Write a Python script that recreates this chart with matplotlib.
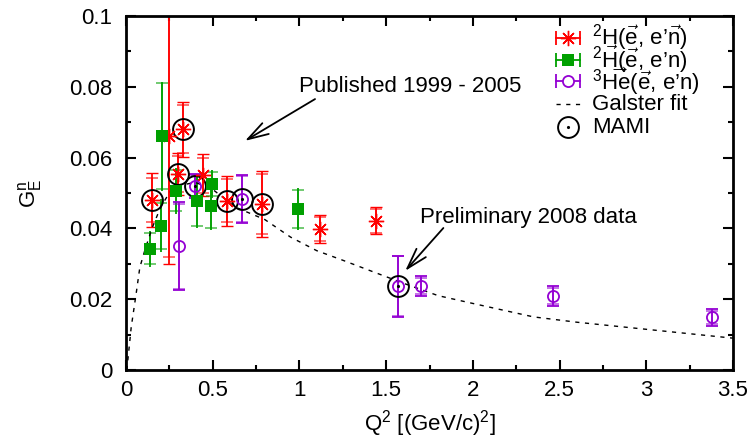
import numpy as np
import matplotlib
matplotlib.use("Agg")
import matplotlib.pyplot as plt

plt.rcParams['font.family'] = ['Liberation Sans', 'DejaVu Sans']
plt.rcParams['mathtext.fontset'] = 'custom'
plt.rcParams['mathtext.rm'] = 'Liberation Sans'
plt.rcParams['mathtext.it'] = 'Liberation Sans:italic'
plt.rcParams['font.size'] = 16

# 2H(e, e'n) with polarised neutron
q2_d_n = [0.15, 0.25, 0.30, 0.33, 0.445, 0.58, 0.785, 1.12, 1.44]
ge_d_n = [0.048, 0.066, 0.0554, 0.068, 0.055, 0.0478, 0.0469, 0.0398, 0.0421]
err_d_n = [0.0075, 0.036, 0.006, 0.0078, 0.006, 0.007, 0.0092, 0.004, 0.0038]
stat_d_n = [0.0062, 0.034, 0.005, 0.0068, 0.005, 0.006, 0.0085, 0.0034, 0.0033]

# 2H(e, e'n) with polarised target
q2_d_t = [0.14, 0.20, 0.21, 0.29, 0.41, 0.495, 0.49, 0.99]
ge_d_t = [0.0342, 0.0407, 0.066, 0.0506, 0.0477, 0.0525, 0.0463, 0.0455]
err_d_t = [0.005, 0.0075, 0.0154, 0.0065, 0.0077, 0.004, 0.0068, 0.006]
stat_d_t = [0.0044, 0.0065, 0.0150, 0.0058, 0.0070, 0.0035, 0.0062, 0.0053]

# 3He(e, e'n)
q2_he = [0.305, 0.40, 0.67, 1.57, 1.70, 2.46, 3.38]
ge_he = [0.035, 0.052, 0.0483, 0.0237, 0.0237, 0.0209, 0.0149]
err_he = [0.0125, 0.0034, 0.0068, 0.0086, 0.0028, 0.0028, 0.0024]
stat_he = [0.0120, 0.0030, 0.0064, 0.0085, 0.0022, 0.0022, 0.0019]

# MAMI points (circled)
q2_mami = [0.15, 0.30, 0.33, 0.40, 0.58, 0.67, 0.785, 1.57]
ge_mami = [0.048, 0.0554, 0.068, 0.052, 0.0478, 0.0483, 0.0469, 0.0237]

# Galster fit
q2_fit = [0.005, 0.03, 0.06, 0.08, 0.11, 0.15, 0.20, 0.25, 0.30, 0.40, 0.50,
          0.63, 0.80, 0.95, 1.10, 1.25, 1.40, 1.60, 1.80, 2.00, 2.35, 2.60,
          2.90, 3.20, 3.50]
ge_fit = [0.0, 0.012, 0.022, 0.029, 0.034, 0.040, 0.046, 0.050, 0.052, 0.053,
          0.051, 0.046, 0.0425, 0.0375, 0.0337, 0.031, 0.0282, 0.0245, 0.021,
          0.0188, 0.015, 0.0135, 0.012, 0.0105, 0.009]

xticks = [0, 0.5, 1, 1.5, 2, 2.5, 3, 3.5]
xticklabels = ['0', '0.5', '1', '1.5', '2', '2.5', '3', '3.5']
yticks = [0, 0.02, 0.04, 0.06, 0.08, 0.1]
yticklabels = ['0', '0.02', '0.04', '0.06', '0.08', '0.1']

legend_labels = [r'$^2$H($\vec{\rm e}$, e’$\vec{\rm n}$)',
                 r'$^2\vec{\rm H}$($\vec{\rm e}$, e’n)',
                 r'$^3\overrightarrow{\rm He}$($\vec{\rm e}$, e’n)',
                 'Galster fit', 'MAMI']

red = '#ff0000'
green = '#00a000'
violet = '#9400d3'

fig, ax = plt.subplots(figsize=(7.48, 4.40), dpi=100)
fig.subplots_adjust(left=0.1684, right=0.98, bottom=0.159, top=0.964)

ekw = dict(linestyle='none', capsize=4.5, elinewidth=1.3, capthick=1.3)
red_mk = dict(marker=(8, 2, 0), ms=11, mew=1.0)
green_mk = dict(marker='s', ms=8, mew=0)
violet_mk = dict(marker='o', ms=8, mfc='none', mew=1.3)

ax.errorbar(q2_d_n, ge_d_n, yerr=err_d_n, color=red, **red_mk, **ekw)
ax.errorbar(q2_d_n, ge_d_n, yerr=stat_d_n, color=red, marker='none', alpha=0.6, **ekw)
ax.errorbar(q2_d_t, ge_d_t, yerr=err_d_t, color=green, **green_mk, **ekw)
ax.errorbar(q2_d_t, ge_d_t, yerr=stat_d_t, color=green, marker='none', alpha=0.6, **ekw)
ax.errorbar(q2_he, ge_he, yerr=err_he, color=violet, **violet_mk, **ekw)
ax.errorbar(q2_he, ge_he, yerr=stat_he, color=violet, marker='none', alpha=0.6, **ekw)

ax.plot(q2_fit, ge_fit, color='black', lw=1, dashes=(3, 4))

ax.plot(q2_mami, ge_mami, 'o', ms=15, mfc='none', mec='black', mew=1.4)
ax.plot(q2_mami, ge_mami, '.', ms=2.5, color='black')

# annotations
akw = dict(arrowstyle='->,head_length=1.0,head_width=0.3', color='black',
           lw=1.3, mutation_scale=15, shrinkA=0, shrinkB=0)
ax.text(1.0, 0.08, 'Published 1999 - 2005', ha='left', va='center')
ax.annotate('', xy=(0.686, 0.0647), xytext=(1.09, 0.0765), arrowprops=akw)
ax.text(1.695, 0.0432, 'Preliminary 2008 data', ha='left', va='center')
ax.annotate('', xy=(1.61, 0.028), xytext=(1.83, 0.0401), arrowprops=akw)

ax.set_xlim(0, 3.5)
ax.set_ylim(0, 0.1)
ax.set_xticks(xticks)
ax.set_xticklabels(xticklabels)
ax.set_xticks(np.arange(0.25, 3.5, 0.5), minor=True)
ax.set_yticks(yticks)
ax.set_yticklabels(yticklabels)
ax.set_yticks(np.arange(0.01, 0.1, 0.02), minor=True)
ax.tick_params(which='both', direction='in', top=True, right=True, width=1.5)
ax.tick_params(which='major', length=7)
ax.tick_params(which='minor', length=3.5)
ax.tick_params(axis='x', pad=7)
ax.tick_params(axis='y', pad=10)
for s in ax.spines.values():
    s.set_linewidth(2)

ax.set_xlabel(r'Q$^2$ [(GeV/c)$^2$]', labelpad=5)
ax.set_ylabel(r'G$_{\rm E}^{\rm n}$')
ax.yaxis.set_label_coords(-0.135, 0.5)

# key, gnuplot style: horizontal error bar sample, marker in the middle
tr = ax.transAxes
kx0, kx1, kxm, ktx = 0.708, 0.748, 0.728, 0.768
rows = [0.938, 0.876, 0.816, 0.751, 0.686]
samples = [(red, red_mk), (green, green_mk), (violet, violet_mk)]
for (c, mk), ky in zip(samples, rows[:3]):
    ax.plot([kx0, kx1], [ky, ky], color=c, lw=1.3, transform=tr, clip_on=False)
    ax.plot([kx0, kx1], [ky, ky], ls='none', marker='|', ms=10, mew=1.3,
            color=c, transform=tr, clip_on=False)
    ax.plot([kxm], [ky], ls='none', color=c, transform=tr, clip_on=False,
            **dict(mk, mfc='white') if mk.get('mfc') == 'none' else mk)
ax.plot([kx0, kx1], [rows[3], rows[3]], color='black', lw=1, dashes=(3, 4),
        transform=tr)
ax.plot([kxm], [rows[4]], 'o', ms=15, mfc='none', mec='black', mew=1.4,
        transform=tr)
ax.plot([kxm], [rows[4]], '.', ms=2.5, color='black', transform=tr)
for lab, ky in zip(legend_labels, rows):
    ax.text(ktx, ky, lab, transform=tr, ha='left', va='center')

fig.savefig('out.png', dpi=100)
